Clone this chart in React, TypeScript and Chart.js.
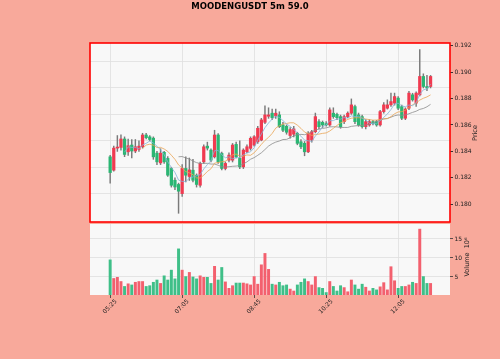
import React, { useEffect, useRef } from "react";
import { Chart, registerables } from "chart.js";

Chart.register(...registerables);

const chartTitle = "MOODENGUSDT 5m 59.0";
const tickIndex = [0, 20, 40, 60, 80];
const tickLabels = ["05:25", "07:05", "08:45", "10:25", "12:05"];

const opens = [
  0.18359, 0.18258, 0.18425, 0.1843, 0.18494, 0.18397, 0.18448, 0.18403, 0.18415, 0.18435,
  0.18524, 0.1851, 0.185, 0.18387, 0.18313, 0.18393, 0.18347, 0.18271, 0.18182, 0.1815,
  0.18081, 0.18271, 0.1821, 0.18258, 0.1822, 0.18144, 0.18321, 0.1844, 0.1841, 0.18359,
  0.18524, 0.18385, 0.18271, 0.18334, 0.18334, 0.18453, 0.18347, 0.18283, 0.18397, 0.18423,
  0.18448, 0.18473, 0.18486, 0.1862, 0.18666, 0.18689, 0.18668, 0.18676, 0.186, 0.1859,
  0.1852, 0.1853, 0.18537, 0.18473, 0.18461, 0.18397, 0.18486, 0.18549, 0.18625, 0.1862,
  0.1861, 0.186, 0.18689, 0.1868, 0.18663, 0.18625, 0.18663, 0.18689, 0.18739, 0.18676,
  0.18663, 0.18587, 0.186, 0.18625, 0.18625, 0.186, 0.18701, 0.18727, 0.18752, 0.18765,
  0.18803, 0.18739, 0.18651, 0.18727, 0.18828, 0.18765, 0.18828, 0.18967, 0.18891, 0.18891,
];
const highs = [
  0.1837, 0.1844, 0.1852, 0.18525, 0.1851, 0.18494, 0.1849, 0.1849, 0.1848, 0.18537,
  0.18537, 0.1852, 0.1851, 0.184, 0.1842, 0.184, 0.1836, 0.1828, 0.182, 0.1816,
  0.183, 0.18359, 0.1835, 0.1834, 0.1823, 0.1832, 0.1845, 0.1847, 0.1842, 0.1856,
  0.18535, 0.18395, 0.1832, 0.1839, 0.1846, 0.1847, 0.1848, 0.1842, 0.1845, 0.1851,
  0.1852, 0.1859, 0.1865, 0.18744, 0.1873, 0.1872, 0.1872, 0.187, 0.1862, 0.186,
  0.1858, 0.1859, 0.18545, 0.1849, 0.18475, 0.1855, 0.1856, 0.1869, 0.1864, 0.1863,
  0.18625, 0.1873, 0.1873, 0.1869, 0.18675, 0.18675, 0.187, 0.18797, 0.1875, 0.1869,
  0.18675, 0.1864, 0.1864, 0.18635, 0.18635, 0.1871, 0.1877, 0.1879, 0.18841, 0.18841,
  0.18815, 0.1875, 0.1873, 0.18855, 0.1884, 0.1885, 0.1917, 0.18987, 0.18975, 0.18975,
];
const lows = [
  0.1816, 0.1825, 0.184, 0.1841, 0.1836, 0.1837, 0.1835, 0.1839, 0.184, 0.18425,
  0.18495, 0.1848, 0.1834, 0.183, 0.183, 0.1831, 0.1821, 0.1813, 0.1811, 0.17932,
  0.1806, 0.18169, 0.1818, 0.1817, 0.1813, 0.1813, 0.1831, 0.1841, 0.1832, 0.1835,
  0.1831, 0.1826, 0.1826, 0.1832, 0.1832, 0.1835, 0.1827, 0.1827, 0.1839, 0.1841,
  0.1844, 0.1846, 0.1848, 0.1861, 0.1865, 0.1864, 0.1865, 0.1858, 0.1855, 0.1853,
  0.185, 0.1851, 0.1845, 0.1842, 0.18367, 0.1839, 0.1847, 0.1854, 0.1857, 0.1858,
  0.1859, 0.1859, 0.1865, 0.1864, 0.18575, 0.1861, 0.18655, 0.1868, 0.1861, 0.1859,
  0.18575, 0.1857, 0.1859, 0.186, 0.1859, 0.1859, 0.1869, 0.1872, 0.1874, 0.1875,
  0.18715, 0.1864, 0.1864, 0.18715, 0.1878, 0.1874, 0.1882, 0.1888, 0.1886, 0.1888,
];
const closes = [
  0.1824, 0.18425, 0.18433, 0.18494, 0.18377, 0.18443, 0.18403, 0.18435, 0.1844, 0.18524,
  0.18504, 0.1849, 0.18359, 0.18321, 0.18387, 0.18321, 0.1822, 0.18144, 0.18131, 0.18099,
  0.18271, 0.1822, 0.1826, 0.18182, 0.1815, 0.18309, 0.18435, 0.18425, 0.18334, 0.18524,
  0.18321, 0.18271, 0.18309, 0.18372, 0.18448, 0.18359, 0.18283, 0.1841, 0.18435, 0.18499,
  0.18511, 0.18575, 0.18638, 0.18676, 0.18676, 0.18655, 0.18689, 0.18587, 0.1856, 0.18545,
  0.18565, 0.1857, 0.18461, 0.18435, 0.18397, 0.18537, 0.18549, 0.18663, 0.18587, 0.186,
  0.186, 0.18714, 0.18663, 0.18655, 0.18587, 0.18663, 0.18689, 0.18752, 0.18625, 0.186,
  0.18587, 0.18625, 0.18625, 0.1861, 0.186, 0.18701, 0.18752, 0.18752, 0.18777, 0.18815,
  0.18727, 0.18651, 0.1872, 0.18841, 0.1879, 0.18841, 0.18967, 0.18891, 0.1888, 0.18967,
];
const volumes = [
  9.5, 4.6, 4.9, 3.8, 2.5, 3.2, 2.9, 3.6, 3.8, 3.8,
  2.5, 2.7, 3.6, 4.2, 3.3, 5.3, 4.2, 6.8, 4.5, 12.4,
  6.8, 5.1, 6.2, 5.0, 4.5, 5.3, 4.9, 4.9, 3.3, 7.8,
  4.2, 7.5, 3.7, 2.0, 2.7, 3.4, 3.4, 3.4, 3.2, 2.9,
  5.1, 3.1, 8.2, 11.2, 7.0, 3.1, 2.9, 3.6, 2.7, 2.9,
  1.8, 1.3, 2.9, 3.6, 4.5, 3.8, 2.9, 5.1, 2.2, 2.0,
  0.9, 3.8, 2.5, 1.3, 2.7, 2.2, 1.1, 4.2, 2.9, 1.8,
  3.1, 2.3, 1.3, 2.0, 1.6, 2.4, 3.5, 1.6, 7.7, 4.0,
  2.0, 2.5, 2.5, 2.9, 3.6, 3.3, 17.6, 5.1, 3.3, 3.3,
];

const priceTicks = [0.18, 0.182, 0.184, 0.186, 0.188, 0.19, 0.192];
const priceGrid = [0.1808, 0.1828, 0.1848, 0.1868, 0.1888, 0.1908];
const volumeTicks = [5, 10, 15];
const maWindows = [5, 10, 20];

const FONT = "'DejaVu Sans', sans-serif";
const BG = "#f8a99b";
const PANEL = "#f8f8f8";
const GRID = "#dedede";
const UP = "#f03a50";
const DOWN = "#2bb673";
const VUP = "#f3606e";
const VDOWN = "#3fbf88";
const WICK = "#7a7a7a";
const MA_COLORS = ["#84b4d8", "#eaa454", "#8c8c8c"];

const X_MIN = -5.6;
const X_MAX = 94.4;

function movingAverage(values: number[], w: number) {
  const out: { x: number; y: number }[] = [];
  for (let i = w - 1; i < values.length; i++) {
    let s = 0;
    for (let k = i - w + 1; k <= i; k++) s += values[k];
    out.push({ x: i, y: s / w });
  }
  return out;
}

const panelPlugin = {
  id: "panel",
  beforeDraw(chart: any, _a: any, opts: any) {
    const { ctx, chartArea: a } = chart;
    ctx.save();
    ctx.fillStyle = opts.bg;
    ctx.fillRect(a.left, a.top, a.right - a.left, a.bottom - a.top);
    ctx.restore();
  },
  afterDraw(chart: any, _a: any, opts: any) {
    const { ctx, chartArea: a } = chart;
    ctx.save();
    if (opts.border) {
      ctx.strokeStyle = opts.border;
      ctx.lineWidth = 1.6;
      ctx.strokeRect(a.left, a.top, a.right - a.left, a.bottom - a.top);
    }
    (opts.texts || []).forEach((t: any) => {
      ctx.save();
      ctx.translate(t.x, t.y);
      ctx.rotate(t.rot || 0);
      ctx.font = t.font;
      ctx.fillStyle = t.color || "#222";
      ctx.textAlign = "center";
      ctx.textBaseline = "middle";
      ctx.fillText(t.text, 0, 0);
      ctx.restore();
    });
    ctx.restore();
  },
};

const setTicks = (vals: number[]) => (ax: any) => {
  ax.ticks = vals.map((v) => ({ value: v }));
};

export default function App() {
  const priceRef = useRef<HTMLCanvasElement>(null);
  const volRef = useRef<HTMLCanvasElement>(null);

  useEffect(() => {
    const candleColors = opens.map((o, i) => (closes[i] >= o ? UP : DOWN));
    const volColors = opens.map((o, i) => (closes[i] >= o ? VUP : VDOWN));

    const maSets = maWindows.map((w, k) => ({
      type: "line" as const,
      label: "MA" + w,
      data: movingAverage(closes, w),
      borderColor: MA_COLORS[k],
      borderWidth: 0.8,
      pointRadius: 0,
      fill: false,
      order: 0,
    }));

    const priceChart = new Chart(priceRef.current!, {
      type: "bar",
      data: {
        datasets: [
          ...maSets,
          {
            type: "bar",
            label: "body",
            data: opens.map((o, i) => ({ x: i, y: [o, closes[i]] })) as any,
            backgroundColor: candleColors,
            barThickness: 2.6,
            minBarLength: 0.8,
            grouped: false,
            order: 1,
          },
          {
            type: "bar",
            label: "wick",
            data: lows.map((l, i) => ({ x: i, y: [l, highs[i]] })) as any,
            backgroundColor: WICK,
            barThickness: 0.8,
            grouped: false,
            order: 2,
          },
        ] as any,
      },
      options: {
        responsive: false,
        animation: false,
        layout: { padding: { left: 90, top: 43, right: 0, bottom: 137 } },
        plugins: {
          legend: { display: false },
          tooltip: { enabled: false },
          panel: {
            bg: PANEL,
            border: "#ff0000",
            texts: [
              { text: chartTitle, x: 250, y: 7, font: `bold 8.5px ${FONT}`, color: "#000" },
              { text: "Price", x: 475.5, y: 133, rot: -Math.PI / 2, font: `6.5px ${FONT}` },
            ],
          },
        } as any,
        scales: {
          x: {
            type: "linear",
            min: X_MIN,
            max: X_MAX,
            offset: false,
            afterBuildTicks: setTicks(tickIndex),
            ticks: { display: false },
            grid: { color: GRID, lineWidth: 0.8, drawTicks: false, offset: false },
            border: { display: false },
            afterFit: (ax: any) => {
              ax.height = 0;
            },
          },
          y: {
            position: "right",
            min: 0.17866,
            max: 0.1922,
            afterBuildTicks: setTicks(priceTicks),
            ticks: {
              font: { family: FONT, size: 6 },
              color: "#222",
              padding: 1.5,
              callback: (v: any) => Number(v).toFixed(3),
            },
            grid: { drawOnChartArea: false, drawTicks: true, tickLength: 3, tickColor: "#333" },
            border: { display: false },
            afterFit: (ax: any) => {
              ax.width = 50;
            },
          },
          yg: {
            position: "left",
            min: 0.17866,
            max: 0.1922,
            afterBuildTicks: setTicks(priceGrid),
            ticks: { display: false },
            grid: { color: GRID, lineWidth: 0.8, drawTicks: false },
            border: { display: false },
            afterFit: (ax: any) => {
              ax.width = 0;
            },
          },
        } as any,
      },
      plugins: [panelPlugin as any],
    });

    const volChart = new Chart(volRef.current!, {
      type: "bar",
      data: {
        datasets: [
          {
            label: "volume",
            data: volumes.map((v, i) => ({ x: i, y: v })) as any,
            backgroundColor: volColors,
            barThickness: 2.3,
            grouped: false,
          },
        ],
      },
      options: {
        responsive: false,
        animation: false,
        layout: { padding: { left: 90, top: 224, right: 0, bottom: 0 } },
        plugins: {
          legend: { display: false },
          tooltip: { enabled: false },
          panel: {
            bg: PANEL,
            texts: [
              { text: "Volume  10⁶", x: 467.5, y: 257, rot: -Math.PI / 2, font: `6.5px ${FONT}` },
            ],
          },
        } as any,
        scales: {
          x: {
            type: "linear",
            min: X_MIN,
            max: X_MAX,
            offset: false,
            afterBuildTicks: setTicks(tickIndex),
            ticks: {
              font: { family: FONT, size: 6 },
              color: "#222",
              minRotation: 45,
              maxRotation: 45,
              labelOffset: 6,
              padding: 0,
              autoSkip: false,
              callback: (v: any) => tickLabels[tickIndex.indexOf(Number(v))] ?? "",
            },
            grid: {
              color: GRID,
              lineWidth: 0.8,
              drawTicks: true,
              tickLength: 3,
              tickColor: "#333",
              offset: false,
            },
            border: { display: false },
            afterFit: (ax: any) => {
              ax.height = 64;
            },
          },
          y: {
            position: "right",
            min: 0.25,
            max: 18.95,
            afterBuildTicks: setTicks(volumeTicks),
            ticks: {
              font: { family: FONT, size: 6 },
              color: "#222",
              padding: 1.5,
              callback: (v: any) => String(v),
            },
            grid: { color: GRID, lineWidth: 0.8, drawTicks: true, tickLength: 3, tickColor: "#333" },
            border: { display: false },
            afterFit: (ax: any) => {
              ax.width = 50;
            },
          },
        } as any,
      },
      plugins: [panelPlugin as any],
    });

    return () => {
      priceChart.destroy();
      volChart.destroy();
    };
  }, []);

  return (
    <div
      style={{
        position: "fixed",
        left: 0,
        top: 0,
        width: 500,
        height: 359,
        background: BG,
      }}
    >
      <canvas
        ref={priceRef}
        width={500}
        height={359}
        style={{ position: "absolute", left: 0, top: 0, width: 500, height: 359 }}
      />
      <canvas
        ref={volRef}
        width={500}
        height={359}
        style={{ position: "absolute", left: 0, top: 0, width: 500, height: 359 }}
      />
    </div>
  );
}
